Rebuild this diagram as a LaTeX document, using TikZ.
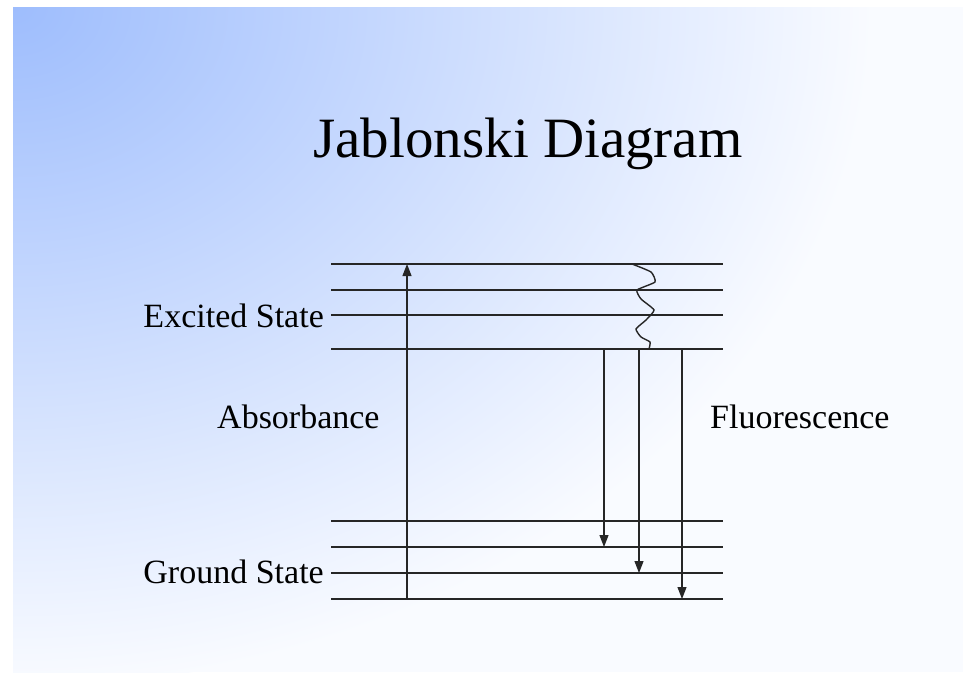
\documentclass[tikz,border=0pt]{standalone}
\usepackage{fontspec}
\setmainfont{Liberation Serif}
\usetikzlibrary{arrows.meta,positioning,calc}

\definecolor{bgblue}{RGB}{158,189,253}
\definecolor{bgpale}{RGB}{249,251,255}

\begin{document}
\begin{tikzpicture}[x=1pt, y=-1pt,
  level/.style={line width=1.6pt, black!85},
  trans/.style={line width=1.2pt, black!85, -{Triangle[length=12pt,width=9pt]}},
  lbl/.style={font=\fontsize{34}{40}\selectfont, inner sep=0pt}]

  % === Background ===
  \useasboundingbox (0,0) rectangle (963,672);
  \fill[white] (0,0) rectangle (963,672);
  \begin{scope}
    \clip (13,7) rectangle (963,672);
    \fill[bgpale] (13,7) rectangle (963,672);
    \shade[inner color=bgblue, outer color=bgpale] (13,7) ellipse [x radius=860, y radius=680];
  \end{scope}

  % === Title ===
  \node[font=\fontsize{57}{64}\selectfont, anchor=base, inner sep=0pt] (title) at (528,157) {Jablonski Diagram};

  % === Energy levels ===
  % Excited state
  \foreach \y [count=\i] in {264,290,315,349} {
    \coordinate (ew\i) at (331,\y);
    \coordinate (ee\i) at (723,\y);
    \draw[level] (ew\i) -- (ee\i);
  }
  % Ground state
  \foreach \y [count=\i] in {521,547,573,599} {
    \coordinate (gw\i) at (331,\y);
    \coordinate (ge\i) at (723,\y);
    \draw[level] (gw\i) -- (ge\i);
  }

  % State labels
  \node[lbl, anchor=base east] (exc) at (324,327) {Excited State};
  \node[lbl, anchor=base east] (gnd) at (324,583) {Ground State};

  % === Absorbance ===
  \coordinate (absx) at (407,0);
  \draw[trans] (gw4 -| absx) -- (ew1 -| absx);
  \node[lbl, anchor=base west] (absl) at (217,428) {Absorbance};

  % === Vibrational relaxation (wavy) ===
  \draw[line width=1.4pt, black!85] plot[smooth, tension=0.3] coordinates
    {(632,264) (651,272) (655,282) (637,290) (641,299) (654,310)
     (646,320) (636,329) (641,337) (650,342) (649,349)};

  % === Fluorescence ===
  \foreach \x/\j in {604/2, 639/3, 682/4} {
    \coordinate (fl\j) at (\x,0);
    \draw[trans] (ew4 -| fl\j) -- (gw\j -| fl\j);
  }
  \node[lbl, anchor=base west] (fluo) at (710,428) {Fluorescence};

\end{tikzpicture}
\end{document}
